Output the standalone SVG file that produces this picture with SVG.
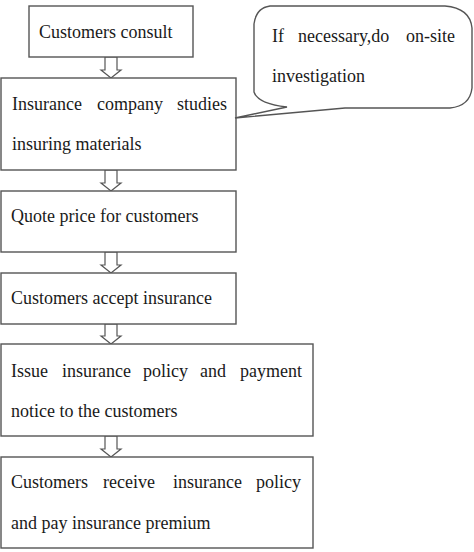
<svg xmlns="http://www.w3.org/2000/svg" width="474" height="552" viewBox="0 0 474 552">
<style>
.box{fill:#fff;stroke:#555;stroke-width:1.4}
.arr{fill:#fff;stroke:#555;stroke-width:1.2;stroke-linejoin:miter}
text{font-family:"Liberation Serif","Times New Roman",serif;font-size:18px;fill:#1a1a1a}
</style>
<rect width="474" height="552" fill="#fff"/>
<g id="connectors">
<polygon class="arr" points="105,57 117,57 117,70 121,70 111,78 101,70 105,70"/>
<polygon class="arr" points="105,170 117,170 117,183 121,183 111,191 101,183 105,183"/>
<polygon class="arr" points="105,252 117,252 117,265 121,265 111,273 101,265 105,265"/>
<polygon class="arr" points="105,324 117,324 117,336 121,336 111,344 101,336 105,336"/>
<polygon class="arr" points="105,436 117,436 117,449 121,449 111,457 101,449 105,449"/>
</g>
<g id="n1">
<rect class="box" x="29" y="6" width="164" height="51"/>
<text x="39" y="38">Customers consult</text>
</g>
<g id="n2">
<rect class="box" x="1" y="78" width="235" height="92"/>
<text y="110"><tspan x="12">Insurance</tspan><tspan x="97">company</tspan><tspan x="227" text-anchor="end">studies</tspan></text>
<text x="12" y="150">insuring materials</text>
</g>
<g id="callout">
<path class="box" d="M254,24 Q256,8 270,6 L445,6 Q470,8 472,28 L472,88 Q470,106 450,108 L345,108 L235,118 L287,107 Q258,104 254,92 Z"/>
<text y="42"><tspan x="272">If</tspan><tspan x="298">necessary,do</tspan><tspan x="455" text-anchor="end">on-site</tspan></text>
<text x="272" y="82">investigation</text>
</g>
<g id="n3">
<rect class="box" x="1" y="191" width="235" height="61"/>
<text x="11" y="222">Quote price for customers</text>
</g>
<g id="n4">
<rect class="box" x="1" y="273" width="235" height="51"/>
<text x="11" y="304">Customers accept insurance</text>
</g>
<g id="n5">
<rect class="box" x="1" y="344" width="312" height="92"/>
<text y="377"><tspan x="11">Issue</tspan><tspan x="62">insurance</tspan><tspan x="143">policy</tspan><tspan x="200">and</tspan><tspan x="302" text-anchor="end">payment</tspan></text>
<text x="11" y="417">notice to the customers</text>
</g>
<g id="n6">
<rect class="box" x="1" y="457" width="312" height="91"/>
<text y="488"><tspan x="11">Customers</tspan><tspan x="103">receive</tspan><tspan x="173">insurance</tspan><tspan x="301" text-anchor="end">policy</tspan></text>
<text x="11" y="529">and pay insurance premium</text>
</g>
</svg>
